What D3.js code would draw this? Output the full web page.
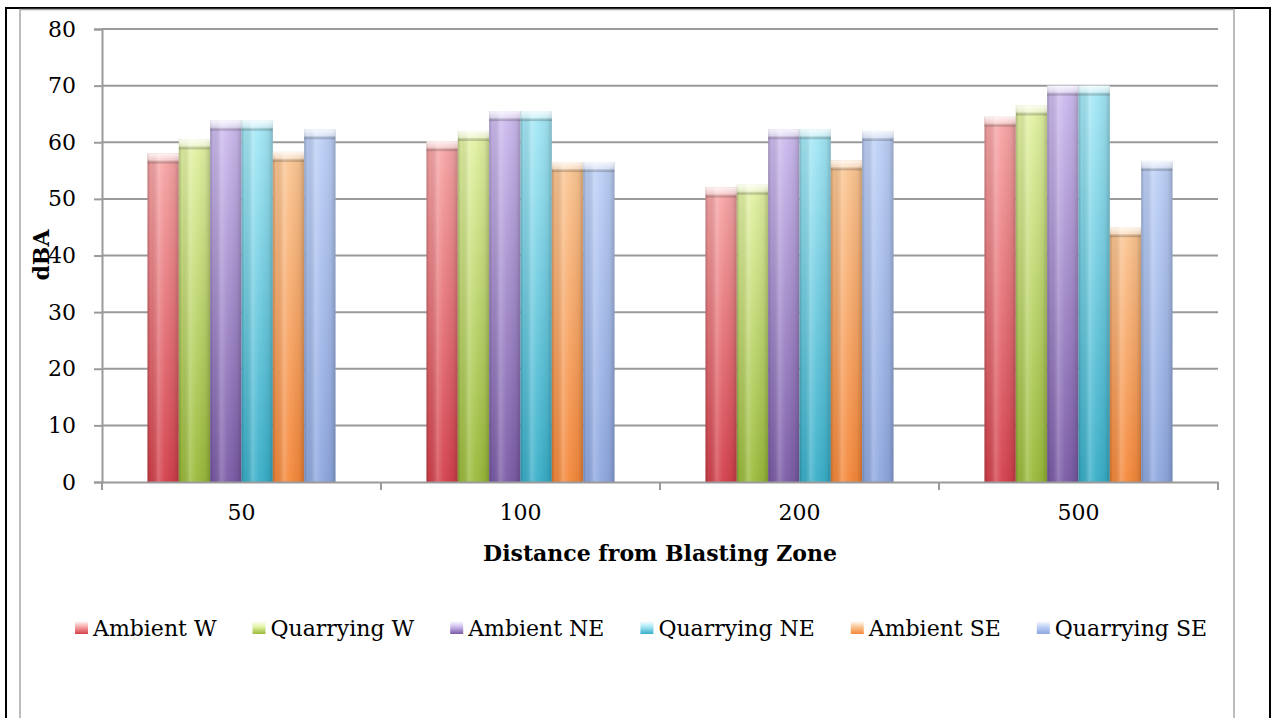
<!DOCTYPE html>
<html>
<head>
<meta charset="utf-8">
<script src="https://cdn.jsdelivr.net/npm/d3@7/dist/d3.min.js"></script>
<style>
  html, body { margin: 0; padding: 0; background: #fff; }
  svg { display: block; }
  text { font-family: "DejaVu Serif", serif; fill: #000; }
</style>
</head>
<body>
<svg id="chart" width="1272" height="718"></svg>
<script>
// Noise level readings (dBA) by distance from the blasting zone
const distances = ["50", "100", "200", "500"];
const seriesNames = ["Ambient W", "Quarrying W", "Ambient NE", "Quarrying NE", "Ambient SE", "Quarrying SE"];
const ambientW    = [58.0, 60.2, 52.0, 64.5];
const quarryingW  = [60.5, 62.0, 52.5, 66.5];
const ambientNE   = [63.8, 65.5, 62.3, 70.0];
const quarryingNE = [63.8, 65.5, 62.3, 70.0];
const ambientSE   = [58.3, 56.5, 56.8, 45.0];
const quarryingSE = [62.3, 56.5, 62.0, 56.7];
const yTicks = [0, 10, 20, 30, 40, 50, 60, 70, 80];

const seriesValues = [ambientW, quarryingW, ambientNE, quarryingNE, ambientSE, quarryingSE];
// bottom (saturated) and top (pale) tones of each cylinder
const darkTones  = ["#d3404b", "#9aba3a", "#7a5ba6", "#38aec8", "#f4873a", "#8ea7df"];
const lightTones = ["#f7a6a6", "#e2f2a4", "#cdbcef", "#a6e8f6", "#fac694", "#bdd0f6"];

const FONT = "DejaVu Serif";
const FS = 22;

const svg = d3.select("#chart");
const defs = svg.append("defs");

// Frame: page border and chart area border
svg.append("line").attr("x1", 6).attr("x2", 6).attr("y1", 8).attr("y2", 718)
  .attr("stroke", "#000").attr("stroke-width", 2);
svg.append("line").attr("x1", 1270).attr("x2", 1270).attr("y1", 8).attr("y2", 718)
  .attr("stroke", "#000").attr("stroke-width", 2);
svg.append("line").attr("x1", 5).attr("x2", 1271).attr("y1", 8).attr("y2", 8)
  .attr("stroke", "#000").attr("stroke-width", 2);
svg.append("rect").attr("x", 20).attr("y", 9.5).attr("width", 1214).attr("height", 720)
  .attr("fill", "none").attr("stroke", "#a6a6a6").attr("stroke-width", 1.5);

const margin = { left: 102, right: 1218, top: 29, bottom: 482 };

const y = d3.scaleLinear().domain([0, 80]).range([margin.bottom, margin.top]);
const x0 = d3.scaleBand().domain(distances).range([margin.left, margin.right])
  .paddingInner(0.326).paddingOuter(0.163);
const x1 = d3.scaleBand().domain(seriesNames).range([0, x0.bandwidth()]);

// Gradients: vertical colour ramp per series plus a cylinder shading overlay
seriesNames.forEach((s, i) => {
  const g = defs.append("linearGradient").attr("id", "fill" + i)
    .attr("x1", 0).attr("y1", 1).attr("x2", 0).attr("y2", 0);
  g.append("stop").attr("offset", "0%").attr("stop-color", darkTones[i]);
  g.append("stop").attr("offset", "100%").attr("stop-color", lightTones[i]);
  const sw = defs.append("linearGradient").attr("id", "sw" + i)
    .attr("x1", 0).attr("y1", 0).attr("x2", 0).attr("y2", 1);
  sw.append("stop").attr("offset", "0%").attr("stop-color", "#ffffff");
  sw.append("stop").attr("offset", "45%").attr("stop-color", lightTones[i]);
  sw.append("stop").attr("offset", "100%").attr("stop-color", darkTones[i]);
});
const cyl = defs.append("linearGradient").attr("id", "cyl")
  .attr("x1", 0).attr("y1", 0).attr("x2", 1).attr("y2", 0);
[["0%", "#000", 0.22], ["10%", "#000", 0.05], ["35%", "#fff", 0.22], ["55%", "#fff", 0.05],
 ["85%", "#000", 0.06], ["100%", "#000", 0.2]].forEach(([o, c, a]) =>
  cyl.append("stop").attr("offset", o).attr("stop-color", c).attr("stop-opacity", a));
const cap = defs.append("linearGradient").attr("id", "cap")
  .attr("x1", 0).attr("y1", 0).attr("x2", 0).attr("y2", 1);
cap.append("stop").attr("offset", "0%").attr("stop-color", "#fff").attr("stop-opacity", 0.85);
cap.append("stop").attr("offset", "65%").attr("stop-color", "#fff").attr("stop-opacity", 0.45);
cap.append("stop").attr("offset", "100%").attr("stop-color", "#000").attr("stop-opacity", 0.18);

// Gridlines
svg.append("g").selectAll("line").data(yTicks.filter(d => d > 0)).join("line")
  .attr("x1", margin.left).attr("x2", margin.right)
  .attr("y1", d => y(d)).attr("y2", d => y(d))
  .attr("stroke", "#9a9a9a").attr("stroke-width", 2);

// Y axis
const yAxis = svg.append("g").attr("transform", `translate(${margin.left},0)`)
  .call(d3.axisLeft(y).tickValues(yTicks).tickSize(8).tickPadding(18));
yAxis.select(".domain").attr("stroke", "#9a9a9a").attr("stroke-width", 2);
yAxis.selectAll(".tick line").attr("stroke", "#9a9a9a").attr("stroke-width", 2);
yAxis.selectAll(".tick text").attr("font-size", FS).attr("font-family", FONT).attr("fill", "#000");

// Bars
const groups = svg.append("g").selectAll("g").data(distances).join("g")
  .attr("transform", d => `translate(${x0(d)},0)`);
const bars = groups.selectAll("g").data((d, gi) => seriesNames.map((s, si) => ({ s, si, v: seriesValues[si][gi] })))
  .join("g");
bars.append("rect")
  .attr("x", d => x1(d.s)).attr("width", x1.bandwidth())
  .attr("y", d => y(d.v)).attr("height", d => y(0) - y(d.v))
  .attr("fill", d => `url(#fill${d.si})`);
bars.append("rect")
  .attr("x", d => x1(d.s)).attr("width", x1.bandwidth())
  .attr("y", d => y(d.v)).attr("height", d => y(0) - y(d.v))
  .attr("fill", "url(#cyl)");
bars.append("rect")
  .attr("x", d => x1(d.s)).attr("width", x1.bandwidth())
  .attr("y", d => y(d.v)).attr("height", 10)
  .attr("fill", "url(#cap)");

// X axis
const xAxis = svg.append("g").attr("transform", `translate(0,${margin.bottom})`)
  .call(d3.axisBottom(x0).tickSize(0).tickPadding(22));
xAxis.select(".domain").attr("stroke", "#9a9a9a").attr("stroke-width", 2);
xAxis.selectAll(".tick text").attr("font-size", FS).attr("font-family", FONT).attr("fill", "#000");
const step = x0.step();
svg.append("g").selectAll("line").data(d3.range(distances.length + 1)).join("line")
  .attr("x1", i => margin.left + i * step).attr("x2", i => margin.left + i * step)
  .attr("y1", margin.bottom).attr("y2", margin.bottom + 8)
  .attr("stroke", "#9a9a9a").attr("stroke-width", 2);

// Axis titles
svg.append("text").attr("x", (margin.left + margin.right) / 2).attr("y", 561)
  .attr("text-anchor", "middle").attr("font-size", FS).attr("font-weight", "bold")
  .text("Distance from Blasting Zone");
svg.append("text").attr("transform", "translate(49,255) rotate(-90)")
  .attr("text-anchor", "middle").attr("font-size", FS).attr("font-weight", "bold")
  .text("dBA");

// Legend
const legend = svg.append("g");
let lx = 75;
seriesNames.forEach((s, i) => {
  legend.append("rect").attr("x", lx).attr("y", 621).attr("width", 13).attr("height", 13)
    .attr("fill", `url(#sw${i})`);
  const t = legend.append("text").attr("x", lx + 18).attr("y", 636).attr("font-size", FS).text(s);
  lx += 18 + t.node().getComputedTextLength() + 36;
});
</script>
</body>
</html>
